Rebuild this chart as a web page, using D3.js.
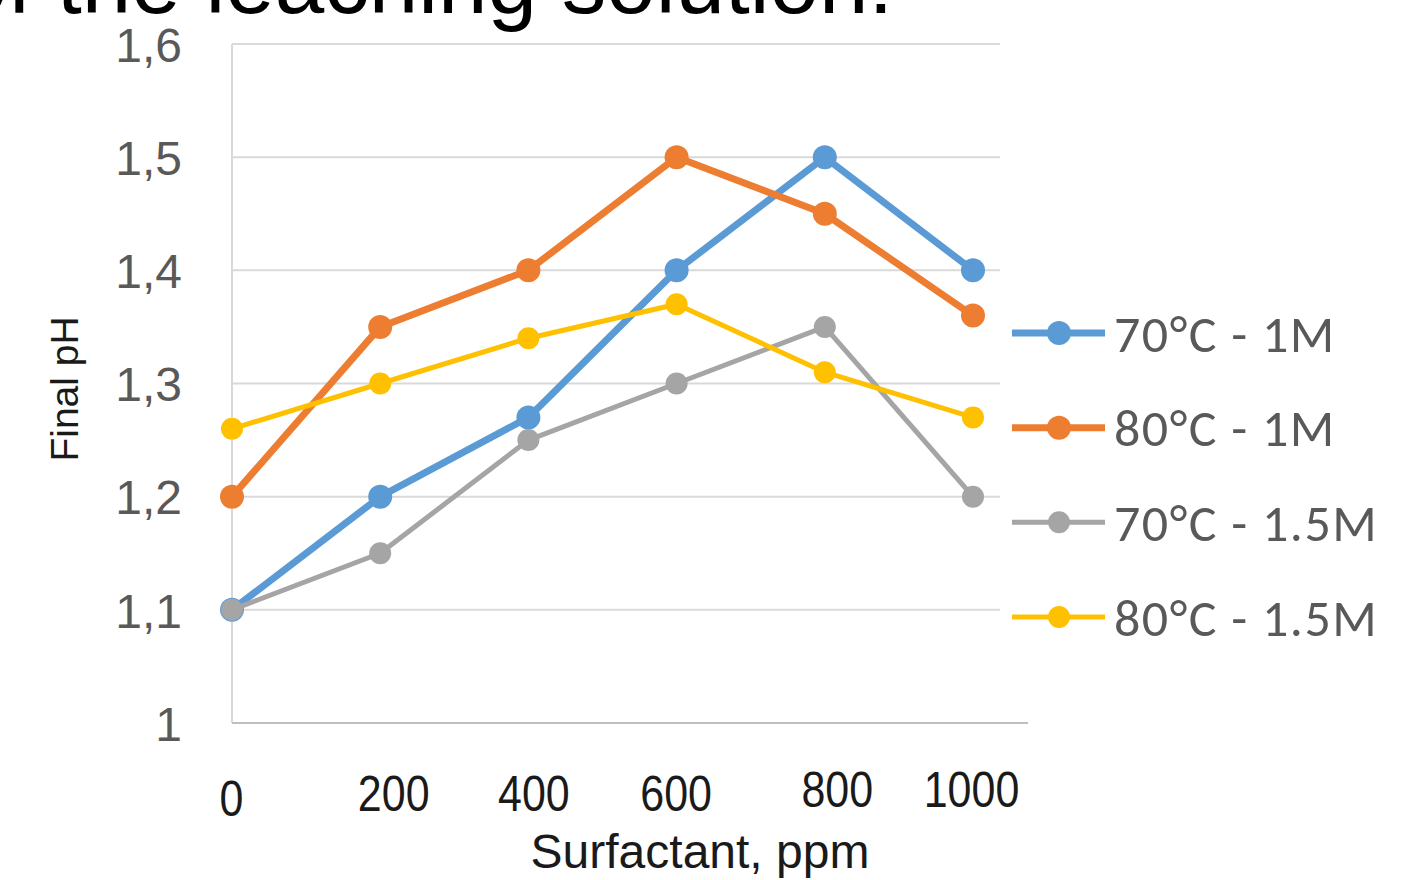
<!DOCTYPE html>
<html>
<head>
<meta charset="utf-8">
<script src="https://cdn.jsdelivr.net/npm/d3@7"></script>
<style>
  html, body { margin: 0; padding: 0; background: #ffffff; }
  svg { display: block; }
</style>
</head>
<body>
<svg id="chart" width="1405" height="880"></svg>
<script>
// ---- data ----
const surfactant = [0, 200, 400, 600, 800, 1000];
const seriesNames = ["70°C - 1M", "80°C - 1M", "70°C - 1.5M", "80°C - 1.5M"];
const s70_1M   = [1.10, 1.20, 1.27, 1.40, 1.50, 1.40];
const s80_1M   = [1.20, 1.35, 1.40, 1.50, 1.45, 1.36];
const s70_15M  = [1.10, 1.15, 1.25, 1.30, 1.35, 1.20];
const s80_15M  = [1.26, 1.30, 1.34, 1.37, 1.31, 1.27];
const yTicks = [1, 1.1, 1.2, 1.3, 1.4, 1.5, 1.6];
const titleText = "of the leaching solution:";
const xTitle = "Surfactant, ppm";
const yTitle = "Final pH";

// ---- styling ----
const colors = ["#5B9BD5", "#ED7D31", "#A5A5A5", "#FFC000"];
const widths = [7, 7, 5, 5];
const radii  = [12, 12, 11, 11];
const seriesValues = [s70_1M, s80_1M, s70_15M, s80_15M];

const svg = d3.select("#chart");
const x = d3.scaleLinear().domain([0, 1000]).range([232, 973]);
const y = d3.scaleLinear().domain([1, 1.6]).range([723, 44]);

// partial title at top (cut off)
svg.append("text")
  .attr("x", -42).attr("y", 13)
  .attr("font-family", "'Liberation Sans', Arial, sans-serif")
  .attr("font-size", 89)
  .attr("fill", "#000")
  .text(titleText);

// gridlines
svg.append("g").selectAll("line")
  .data(yTicks.filter(d => d > 1))
  .join("line")
  .attr("x1", x(0)).attr("x2", 1000)
  .attr("y1", d => y(d)).attr("y2", d => y(d))
  .attr("stroke", "#d9d9d9").attr("stroke-width", 2);

// left axis line
svg.append("line")
  .attr("x1", x(0)).attr("x2", x(0))
  .attr("y1", y(1.6)).attr("y2", y(1))
  .attr("stroke", "#d9d9d9").attr("stroke-width", 2);

// bottom axis line
svg.append("line")
  .attr("x1", x(0)).attr("x2", 1028)
  .attr("y1", y(1)).attr("y2", y(1))
  .attr("stroke", "#bfbfbf").attr("stroke-width", 2);

// y axis labels
const yAxis = d3.axisLeft(y).tickValues(yTicks)
  .tickFormat(d => d3.format(".1~f")(d).replace(".", ","))
  .tickSize(0).tickPadding(0);
const gy = svg.append("g").attr("transform", "translate(182,0)").call(yAxis);
gy.select(".domain").remove();
gy.selectAll("text")
  .attr("font-family", "'Liberation Sans', Arial, sans-serif")
  .attr("font-size", 48)
  .attr("fill", "#595959")
  .attr("dy", "0.36em");

// x axis labels (slightly irregular placement as in source)
const xNudge = {0: [-1, 6], 200: [13, 1], 400: [5, 1], 600: [-1, 1], 800: [12, -3], 1000: [-2, -3]};
const xAxis = d3.axisBottom(x).tickValues(surfactant)
  .tickFormat(d3.format("d")).tickSize(0).tickPadding(0);
const gx = svg.append("g").attr("transform", "translate(0,776)").call(xAxis);
gx.select(".domain").remove();
gx.selectAll("text")
  .attr("font-family", "'Liberation Sans', Arial, sans-serif")
  .attr("font-size", 50)
  .attr("fill", "#1a1a1a")
  .attr("transform", "scale(0.86,1)")
  .attr("dx", d => xNudge[d][0] / 0.86)
  .attr("dy", d => xNudge[d][1] + 34);

// axis titles
svg.append("text")
  .attr("x", 700).attr("y", 868)
  .attr("text-anchor", "middle")
  .attr("font-family", "'Liberation Sans', Arial, sans-serif")
  .attr("font-size", 48)
  .attr("fill", "#1a1a1a")
  .text(xTitle);

svg.append("text")
  .attr("transform", "translate(78,389) rotate(-90)")
  .attr("text-anchor", "middle")
  .attr("font-family", "'Liberation Sans', Arial, sans-serif")
  .attr("font-size", 39)
  .attr("fill", "#1a1a1a")
  .text(yTitle);

// series
const line = d3.line().x((d, i) => x(surfactant[i])).y(d => y(d));
seriesValues.forEach((vals, k) => {
  const g = svg.append("g");
  g.append("path").datum(vals)
    .attr("d", line)
    .attr("fill", "none")
    .attr("stroke", colors[k])
    .attr("stroke-width", widths[k])
    .attr("stroke-linejoin", "round");
  g.selectAll("circle").data(vals).join("circle")
    .attr("cx", (d, i) => x(surfactant[i]))
    .attr("cy", d => y(d))
    .attr("r", radii[k])
    .attr("fill", colors[k]);
});

// legend
const legendY = d3.scalePoint().domain(seriesNames).range([333, 617]);
const lg = svg.append("g");
seriesNames.forEach((name, k) => {
  const cy = legendY(name);
  lg.append("line")
    .attr("x1", 1012).attr("x2", 1105)
    .attr("y1", cy).attr("y2", cy)
    .attr("stroke", colors[k]).attr("stroke-width", widths[k]);
  lg.append("circle").attr("cx", 1059).attr("cy", cy).attr("r", radii[k]).attr("fill", colors[k]);
  lg.append("text")
    .attr("x", 1114).attr("y", cy)
    .attr("dy", "0.36em")
    .attr("font-family", "Carlito, Calibri, Lato, sans-serif")
    .attr("font-size", 52)
    .attr("letter-spacing", 1.5)
    .attr("fill", "#595959")
    .text(name);
});
</script>
</body>
</html>
